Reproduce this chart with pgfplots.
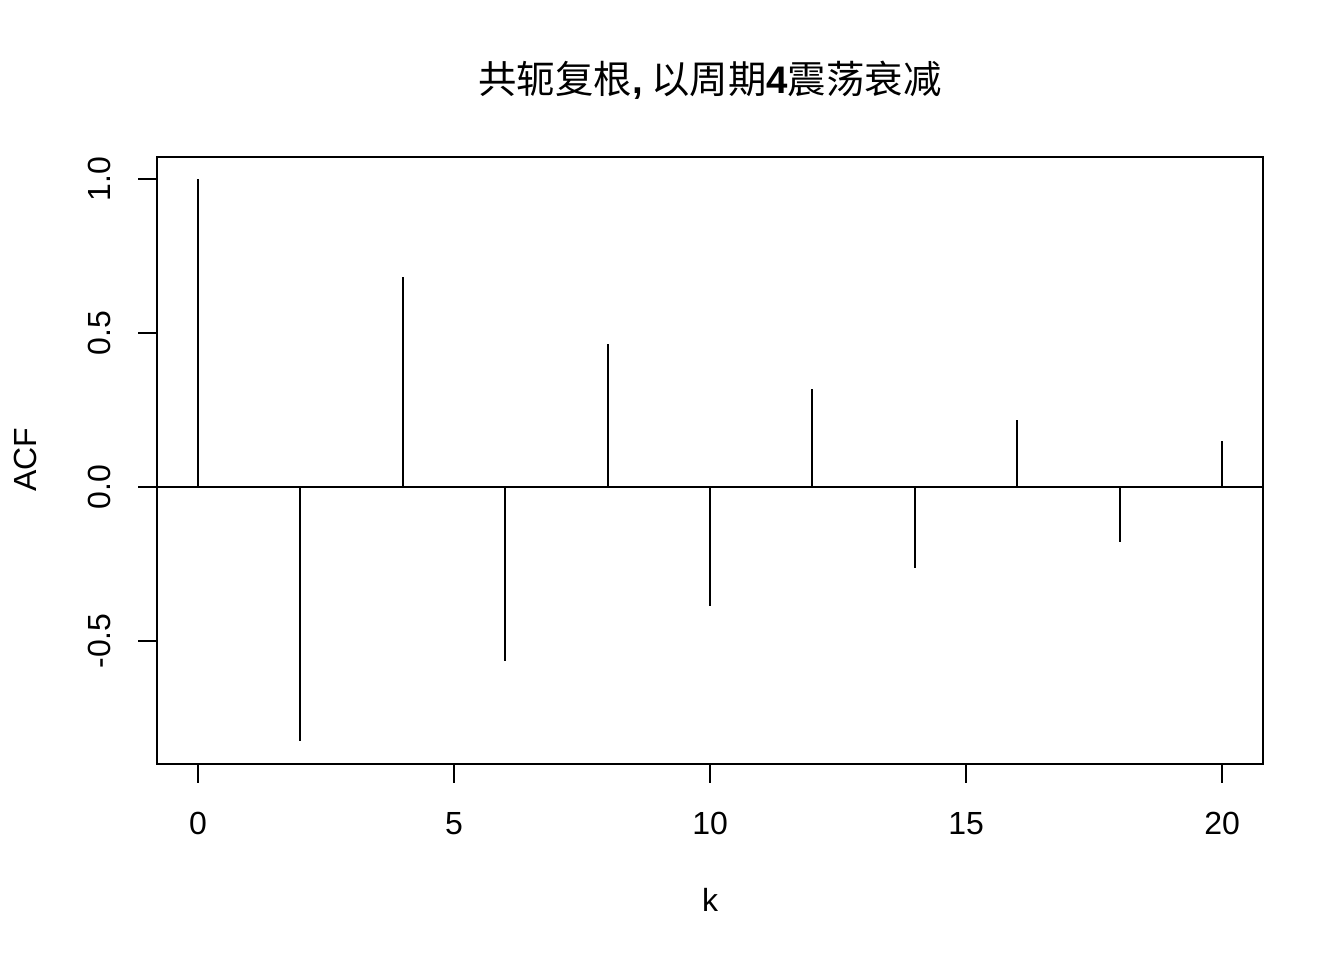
\documentclass[border=0pt]{standalone}
\usepackage{pgfplots}
\pgfplotsset{compat=1.18}
\usepackage{fontspec}
\setmainfont{Liberation Sans}
\newfontfamily\cjk{Noto Sans CJK SC}
\begin{document}
\begin{tikzpicture}[font=\fontsize{12bp}{14bp}\selectfont]
\path[use as bounding box] (0,0) rectangle (504bp,360bp);
\begin{axis}[
  at={(58.9bp,73.5bp)}, anchor=south west,
  scale only axis, width=414.75bp, height=227.6bp,
  xmin=-0.8, xmax=20.8, ymin=-0.899, ymax=1.071,
  axis line style={line width=0.75bp},
  tick style={line width=0.75bp, black},
  tick align=outside, major tick length=7.1bp,
  xtick pos=bottom, ytick pos=left,
  xtick={0,5,10,15,20}, ytick={-0.5,0,0.5,1},
  /pgf/number format/assume math mode=true,
  yticklabel style={rotate=90, anchor=center, yshift=13.1bp, /pgf/number format/.cd, fixed, fixed zerofill, precision=1},
  xticklabel style={anchor=center, yshift=-16.5bp},
  scaled ticks=false,
  typeset ticklabels with strut=false,
  clip=false,
]
\addplot[ycomb, black, line width=0.75bp, mark=none] coordinates {
(0,1) (1,0) (2,-0.825) (3,0) (4,0.682) (5,0) (6,-0.565) (7,0) (8,0.464) (9,0)
(10,-0.386) (11,0) (12,0.318) (13,0) (14,-0.263) (15,0) (16,0.218) (17,0)
(18,-0.179) (19,0) (20,0.149)
};
\addplot[black, line width=0.75bp, mark=none] coordinates {(-0.8,0) (20.8,0)};
\end{axis}
\node[font=\fontsize{14.4bp}{17bp}\selectfont] at (266.25bp,330bp) {\cjk 共轭复根\textbf{\rmfamily ,} 以周期\textbf{\rmfamily 4}震荡衰减};
\node at (266.25bp,22.5bp) {k};
\node[rotate=90] at (9.4bp,187.5bp) {ACF};
\end{tikzpicture}
\end{document}
